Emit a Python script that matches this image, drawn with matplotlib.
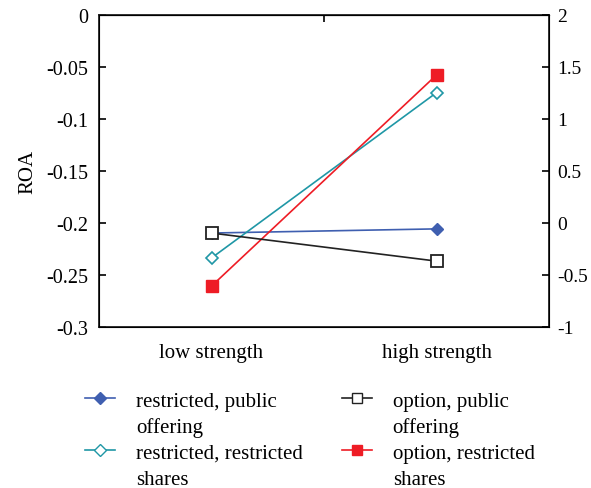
import matplotlib
matplotlib.use("Agg")
import matplotlib.pyplot as plt
from matplotlib.lines import Line2D
import numpy as np

plt.rcParams['font.family'] = ['Liberation Serif', 'DejaVu Serif']

categories = ['low strength', 'high strength']
rest_public = [-0.210, -0.206]
rest_rest = [-0.234, -0.075]
opt_public = [-0.210, -0.237]
opt_rest = [-0.261, -0.058]

left_ticks = [0, -0.05, -0.1, -0.15, -0.2, -0.25, -0.3]
left_labels = ['0', '-0.05', '-0.1', '-0.15', '-0.2', '-0.25', '-0.3']
right_ticks = [2, 1.5, 1, 0.5, 0, -0.5, -1]
right_labels = ['2', '1.5', '1', '0.5', '0', '-0.5', '-1']

fig = plt.figure(figsize=(5.91, 4.89), dpi=100)
ax = fig.add_axes([0.1675, 0.330, 0.7615, 0.638])

x = np.arange(len(categories))
ax.plot(x, rest_public, color='#3f5fb0', lw=1.2, marker='D', ms=6.5,
        mfc='#3f5fb0', mec='#3f5fb0', zorder=3)
ax.plot(x, opt_public, color='#222222', lw=1.2, marker='s', ms=8,
        mfc='white', mec='#222222', mew=1.3, zorder=4)
ax.plot(x, rest_rest, color='#1f97a6', lw=1.2, marker='D', ms=6,
        mfc='white', mec='#1f97a6', mew=1.2, zorder=3)
ax.plot(x, opt_rest, color='#ee1c25', lw=1.2, marker='s', ms=8,
        mfc='#ee1c25', mec='#ee1c25', zorder=3)

ax.set_xlim(-0.5, 1.5)
ax.set_ylim(-0.3, 0)
ax.set_xticks(x)
ax.set_xticklabels(categories, fontsize=15)
ax.tick_params(axis='x', length=0, pad=12)
ax.set_yticks(left_ticks)
ax.set_yticklabels(left_labels, fontsize=14.5)
ax.tick_params(axis='y', direction='in', length=5, width=1.2, pad=8)
ax.set_ylabel('ROA', fontsize=15, labelpad=6)
for s in ax.spines.values():
    s.set_linewidth(1.3)
    s.set_color('#222222')

top = ax.secondary_xaxis('top')
top.set_xticks([0.5])
top.set_xticklabels([''])
top.tick_params(direction='in', length=5, width=1.2)

ax2 = ax.twinx()
ax2.set_ylim(-1, 2)
ax2.set_yticks(right_ticks)
ax2.set_yticklabels(right_labels, fontsize=14)
ax2.tick_params(axis='y', direction='in', length=5, width=1.2, pad=6)

blank = Line2D([], [], color='none')
handles = [
    Line2D([], [], color='#3f5fb0', lw=1.2, marker='D', ms=6, mfc='#3f5fb0', mec='#3f5fb0'),
    blank,
    Line2D([], [], color='#1f97a6', lw=1.2, marker='D', ms=6, mfc='white', mec='#1f97a6'),
    blank,
    Line2D([], [], color='#222222', lw=1.2, marker='s', ms=7, mfc='white', mec='#222222'),
    blank,
    Line2D([], [], color='#ee1c25', lw=1.2, marker='s', ms=7, mfc='#ee1c25', mec='#ee1c25'),
    blank,
]
labels = ['restricted, public', 'offering', 'restricted, restricted', 'shares',
          'option, public', 'offering', 'option, restricted', 'shares']
fig.legend(handles, labels, ncol=2, loc='upper left', bbox_to_anchor=(0.130, 0.215),
           frameon=False, fontsize=15, handlelength=1.45, handletextpad=1.0,
           labelspacing=0.3, columnspacing=1.85, borderaxespad=0)

fig.savefig('out.png', dpi=100)
